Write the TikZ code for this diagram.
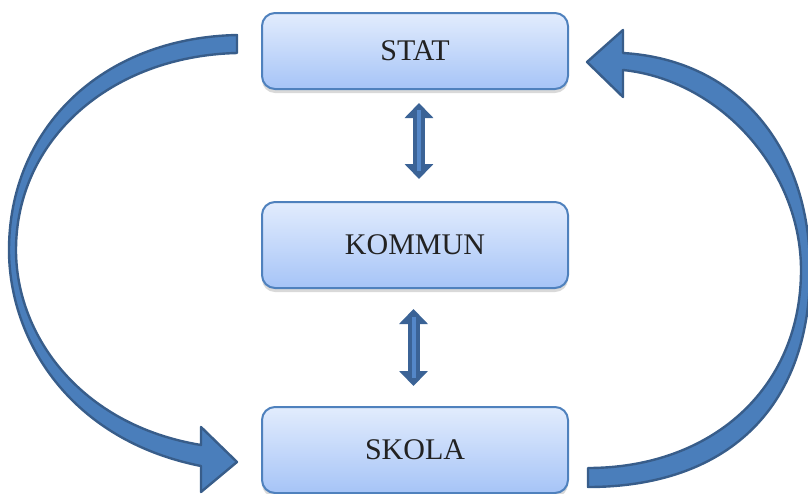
\documentclass[tikz,border=0pt]{standalone}
\usepackage{fontspec}
\setmainfont{Liberation Serif}
\usetikzlibrary{arrows.meta,shadows}

\definecolor{boxline}{RGB}{79,129,189}
\definecolor{boxtop}{RGB}{226,236,253}
\definecolor{boxbot}{RGB}{166,196,247}
\definecolor{boxtext}{RGB}{34,34,34}
\definecolor{arrowfill}{RGB}{74,126,187}
\definecolor{arrowline}{RGB}{56,93,138}
\definecolor{dblline}{RGB}{59,99,150}
\definecolor{dblstripe}{RGB}{84,135,200}

\begin{document}
\begin{tikzpicture}[x=0.5pt, y=-0.5pt,
    level/.style={draw=boxline, line width=1pt, rounded corners=6.5pt,
      top color=boxtop, bottom color=boxbot, minimum width=153pt,
      minimum height=43pt, text=boxtext, font=\fontsize{15}{18}\selectfont,
      drop shadow={shadow xshift=0pt, shadow yshift=-2pt, opacity=.3}},
    bigarrow/.style={fill=arrowfill, draw=arrowline, line width=1.2pt, line join=round},
    twoway/.style={color=dblline, line width=6pt,
      {Triangle[width=14pt 0 0,length=7.5pt 0 0]}-{Triangle[width=14pt 0 0,length=7.5pt 0 0]}},
    stripe/.style={color=dblstripe, line width=2pt}]
    \useasboundingbox (0,0) rectangle (808,493);

    % feedback arrows
    \path[bigarrow] (237,35) .. controls (100,38) and (9,130) .. (9,250)
      .. controls (9,340) and (70,440) .. (201,466)
      -- (201,492) -- (237,462) -- (201,427) -- (201,445)
      .. controls (80,425) and (16,335) .. (16,250)
      .. controls (16,140) and (110,56) .. (237,53) -- cycle;
    \path[bigarrow] (588,487) .. controls (725,487) and (810,410) .. (810,270)
      .. controls (810,150) and (740,60) .. (623,53)
      -- (623,30) -- (587,62) -- (623,97) -- (623,70)
      .. controls (720,80) and (801,170) .. (801,270)
      .. controls (801,390) and (710,468) .. (588,468) -- cycle;

    % level nodes
    \node[level, minimum height=38pt] at (415,51) (stat) {STAT};
    \node[level] at (415,245) (kommun) {KOMMUN};
    \node[level] at (415,450) (skola) {SKOLA};

    % two-way connections
    \draw[twoway, shorten <= 6.5pt, shorten >= 11pt] ([xshift=2pt]stat.south) -- ([xshift=2pt]kommun.north);
    \draw[stripe, shorten <= 10pt, shorten >= 15pt] ([xshift=2pt]stat.south) -- ([xshift=2pt]kommun.north);
    \draw[twoway, shorten <= 10pt, shorten >= 10pt] ([xshift=-.75pt]kommun.south) -- ([xshift=-.75pt]skola.north);
    \draw[stripe, shorten <= 14pt, shorten >= 14pt] ([xshift=-.75pt]kommun.south) -- ([xshift=-.75pt]skola.north);
\end{tikzpicture}
\end{document}
